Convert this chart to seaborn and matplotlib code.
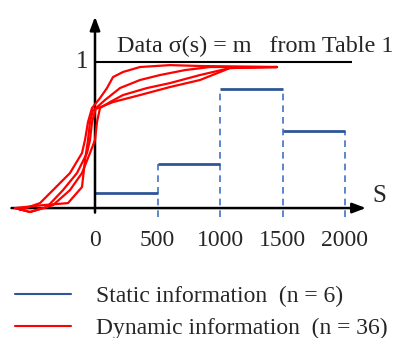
import matplotlib
matplotlib.use("Agg")
import matplotlib.pyplot as plt
import seaborn as sns
import pandas as pd

# static information: step values per bin
bin_edges = [0, 500, 1000, 1500, 2000]
static_vals = [0.10, 0.30, 0.815, 0.53]

# dynamic information: red curves (x in S, y in sigma)
curve1_x = [-600, -440, -336, -200, -104, -80, -56, -24, 40, 96, 144, 224, 360, 600, 840, 1456]
curve1_y = [-0.014, 0.034, 0.123, 0.24, 0.377, 0.466, 0.589, 0.685, 0.753, 0.822, 0.897, 0.932, 0.966, 0.979, 0.973, 0.966]
curve2_x = [-640, -520, -384, -256, -144, -64, -40, -24, 8, 80, 200, 360, 520, 720, 920, 1456]
curve2_y = [0.0, -0.027, 0.007, 0.123, 0.24, 0.377, 0.466, 0.589, 0.685, 0.74, 0.822, 0.877, 0.911, 0.945, 0.966, 0.966]
curve3_x = [-640, -520, -336, -200, -104, -40, 0, 16, 40, 120, 224, 416, 600, 840, 1080, 1456]
curve3_y = [0.0, -0.027, 0.02, 0.123, 0.24, 0.377, 0.466, 0.589, 0.685, 0.726, 0.774, 0.822, 0.856, 0.911, 0.959, 0.966]
curve4_x = [-640, -416, -216, -104, -80, -56, -40, -16, 144, 360, 600, 840, 1080, 1456]
curve4_y = [0.0, 0.02, 0.034, 0.144, 0.329, 0.466, 0.589, 0.671, 0.726, 0.774, 0.829, 0.877, 0.959, 0.966]

curves = [(curve1_x, curve1_y), (curve2_x, curve2_y), (curve3_x, curve3_y), (curve4_x, curve4_y)]
rows = []
for i, (cx, cy) in enumerate(curves):
    for k in range(len(cx)):
        rows.append({"curve": i, "S": cx[k], "sigma": cy[k]})
dyn = pd.DataFrame(rows)

tick_vals = [0, 500, 1000, 1500, 2000]
tick_labels = ["0", "500", "1000", "1500", "2000"]

sns.set_style("white")
plt.rcParams["font.family"] = ["Liberation Serif", "DejaVu Serif"]

fig = plt.figure(figsize=(3.99, 3.38), dpi=100)
ax = fig.add_axes([0, 0, 1, 1])
ax.set_xlim(-760, 2432)
ax.set_ylim(-0.89, 1.425)
ax.axis("off")

blue = "#2F5597"
blue_dash = "#4472C4"
red = "#FF0000"

# static steps
for i in range(len(static_vals)):
    ax.hlines(static_vals[i], bin_edges[i], bin_edges[i + 1], color=blue, lw=2, zorder=3)
for i in range(1, len(bin_edges)):
    top = max(static_vals[i - 1], static_vals[i] if i < len(static_vals) else 0)
    ax.vlines(bin_edges[i], -0.06, top, color=blue_dash, lw=1.2, linestyles=(0, (4, 3)), zorder=2)

# dynamic curves
sns.lineplot(data=dyn, x="S", y="sigma", units="curve", estimator=None, sort=False,
             color=red, lw=1.6, ax=ax, legend=False, zorder=4)

# axes with arrows
ax.annotate("", xy=(2190, 0), xytext=(-690, 0),
            arrowprops=dict(arrowstyle="-|>,head_length=0.8,head_width=0.3", color="black", lw=1.8))
ax.annotate("", xy=(0, 1.33), xytext=(0, -0.05),
            arrowprops=dict(arrowstyle="-|>,head_length=0.8,head_width=0.3", color="black", lw=1.8))
ax.hlines(1.0, 0, 2056, color="black", lw=1.5, zorder=3)

fs = 17
ax.text(-50, 1.0, "1", ha="right", va="center", fontsize=18)
ax.text(2220, 0.08, "S", ha="left", va="center", fontsize=18)
ax.text(176, 1.11, "Data σ(s) = m   from Table 1", ha="left", va="center", fontsize=17.4)
for v, lab in zip(tick_vals, tick_labels):
    ax.text(v, -0.22, lab, ha="center", va="center", fontsize=fs)

# legend
h1, = ax.plot([], [], color=blue, lw=1.5)
h2, = ax.plot([], [], color=red, lw=1.5)
fig.legend([h1, h2], ["Static information  (n = 6)", "Dynamic information  (n = 36)"],
           loc="upper left", bbox_to_anchor=(-0.005, 0.205), frameon=False, fontsize=fs,
           handlelength=2.4, handletextpad=1.05, labelspacing=0.45, borderpad=0.2)

fig.savefig("out.png", dpi=100)
